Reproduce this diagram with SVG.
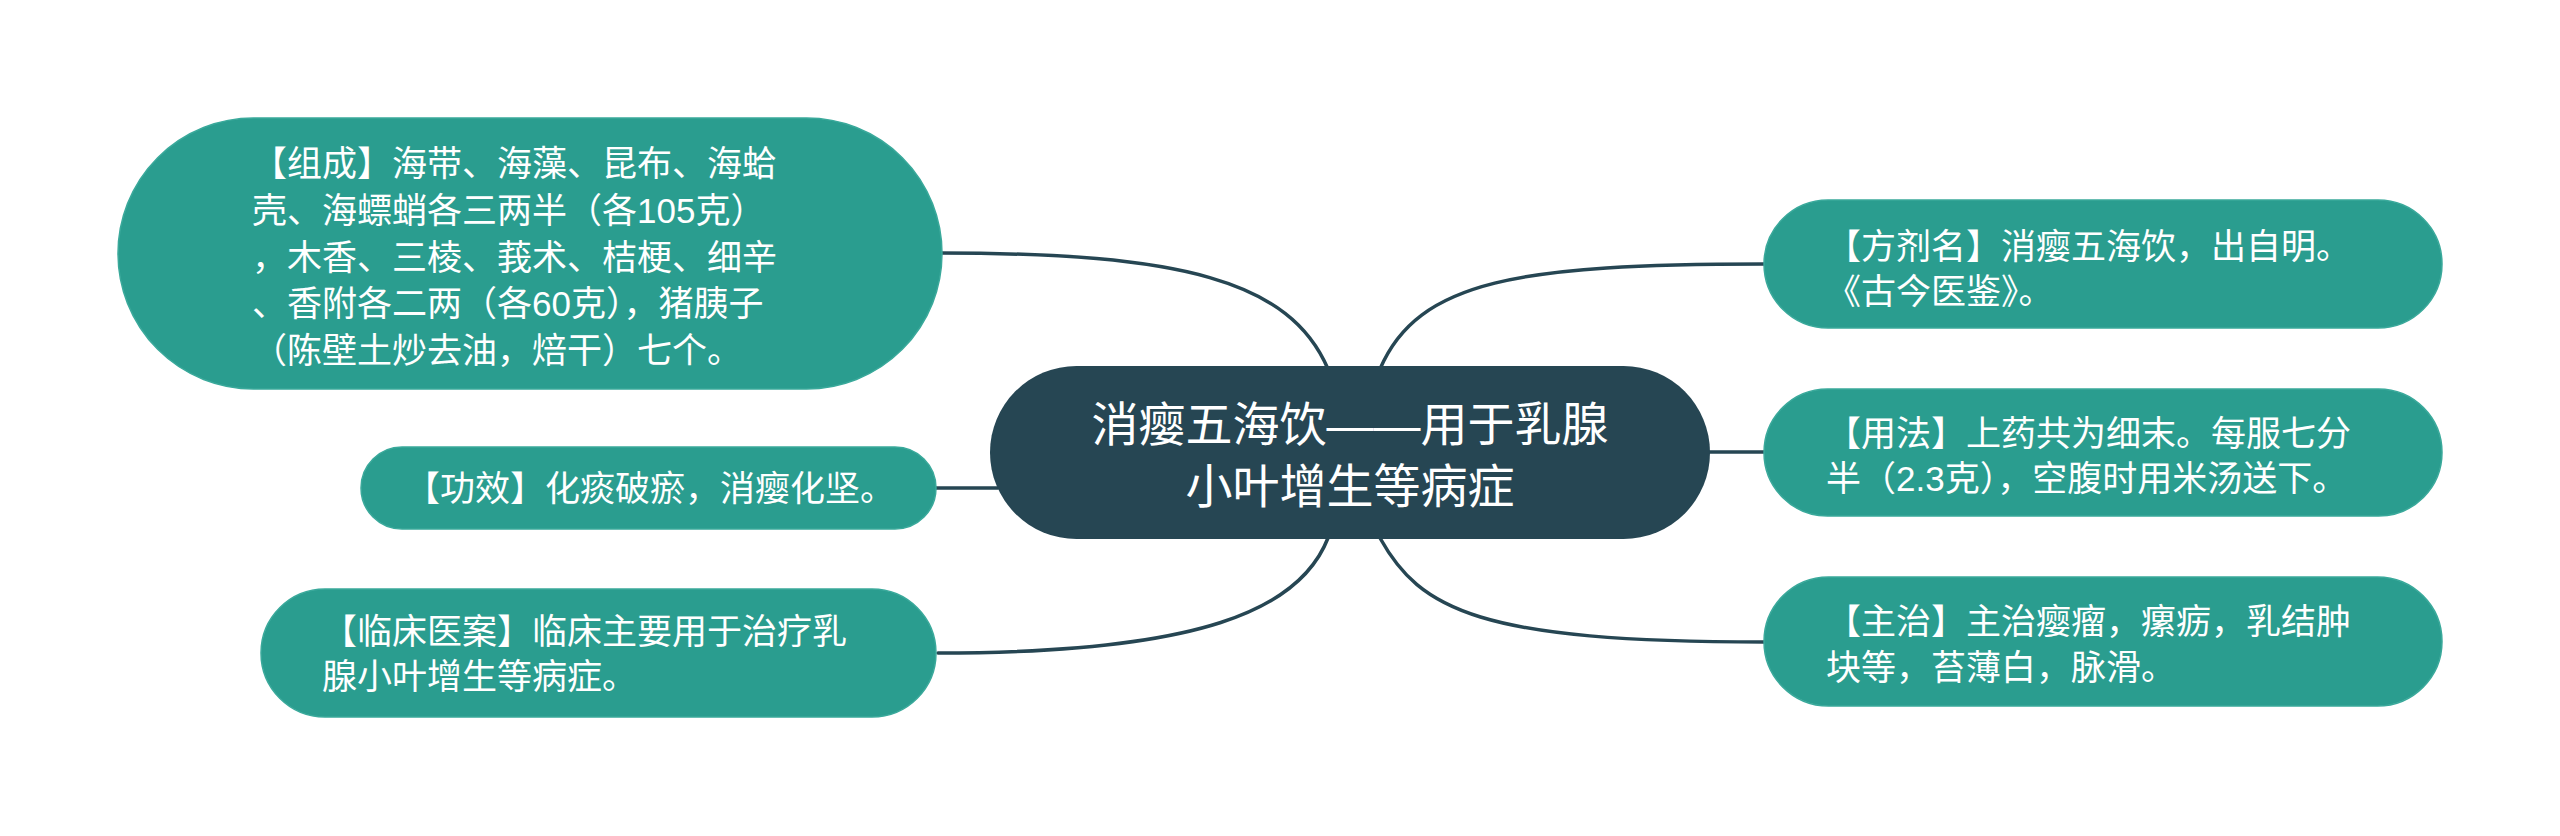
<svg xmlns="http://www.w3.org/2000/svg" width="2560" height="836" viewBox="0 0 2560 836">
<style>
.node{fill:#2a9d8f;stroke:#3aa99b;stroke-width:1.5}
.root{fill:#264653}
.t{font-family:"Liberation Sans","Noto Sans CJK SC",sans-serif;font-size:35px;fill:#ffffff}
.rt{font-family:"Liberation Sans","Noto Sans CJK SC",sans-serif;font-size:47px;fill:#ffffff;text-anchor:middle}
.c{fill:none;stroke:#264653;stroke-width:3.5;stroke-linecap:round}
</style>
<rect width="2560" height="836" fill="#ffffff"/>
<g id="connectors">
<path class="c" d="M1328 369 C1290 280 1180 253 940 253"/>
<path class="c" d="M998 488 L936 488"/>
<path class="c" d="M1328 538 C1300 610 1200 653 938 653"/>
<path class="c" d="M1380 369 C1418 280 1520 264 1764 264"/>
<path class="c" d="M1708 452 L1764 452"/>
<path class="c" d="M1380 538 C1420 610 1480 642 1764 642"/>
</g>
<g id="root">
<rect class="root" x="990" y="366" width="720" height="173" rx="86.5"/>
<text class="rt" x="1350" y="441">消瘿五海饮——用于乳腺</text>
<text class="rt" x="1350" y="503">小叶增生等病症</text>
</g>
<g id="node-zucheng">
<rect class="node" x="118" y="118" width="824" height="271" rx="135.5"/>
<text class="t" x="252" y="176">【组成】海带、海藻、昆布、海蛤</text>
<text class="t" x="252" y="223">壳、海螵蛸各三两半（各105克）</text>
<text class="t" x="252" y="270">，木香、三棱、莪术、桔梗、细辛</text>
<text class="t" x="252" y="316">、香附各二两（各60克），猪胰子</text>
<text class="t" x="252" y="363">（陈壁土炒去油，焙干）七个。</text>
</g>
<g id="node-gongxiao">
<rect class="node" x="361" y="447" width="575" height="82" rx="41"/>
<text class="t" x="405" y="501">【功效】化痰破瘀，消瘿化坚。</text>
</g>
<g id="node-linchuang">
<rect class="node" x="261" y="589" width="675" height="128" rx="64"/>
<text class="t" x="322" y="644">【临床医案】临床主要用于治疗乳</text>
<text class="t" x="322" y="689">腺小叶增生等病症。</text>
</g>
<g id="node-fangji">
<rect class="node" x="1764" y="200" width="678" height="128" rx="64"/>
<text class="t" x="1826" y="259">【方剂名】消瘿五海饮，出自明。</text>
<text class="t" x="1826" y="304">《古今医鉴》。</text>
</g>
<g id="node-yongfa">
<rect class="node" x="1764" y="389" width="678" height="127" rx="63.5"/>
<text class="t" x="1826" y="446">【用法】上药共为细末。每服七分</text>
<text class="t" x="1826" y="491">半（2.3克），空腹时用米汤送下。</text>
</g>
<g id="node-zhuzhi">
<rect class="node" x="1764" y="577" width="678" height="129" rx="64.5"/>
<text class="t" x="1826" y="634">【主治】主治瘿瘤，瘰疬，乳结肿</text>
<text class="t" x="1826" y="680">块等，苔薄白，脉滑。</text>
</g>
</svg>
